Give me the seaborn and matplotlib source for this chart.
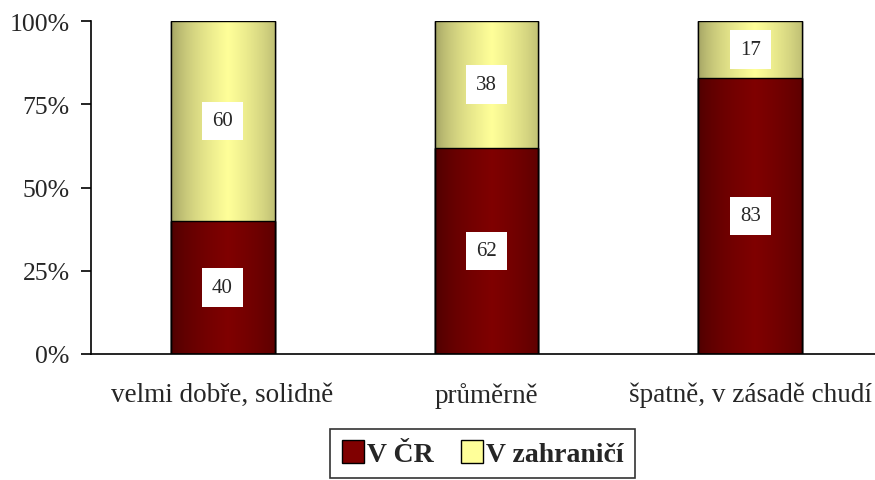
import numpy as np
import pandas as pd
import matplotlib
matplotlib.use("Agg")
import matplotlib.pyplot as plt
import matplotlib.patches as mpatches
import seaborn as sns

categories = ["velmi dobře, solidně", "průměrně", "špatně, v zásadě chudí"]
v_cr = [40, 62, 83]
v_zahranici = [60, 38, 17]
series_names = ["V ČR", "V zahraničí"]

# gradient colours (edge, centre) for the cylinder look
red_edge, red_mid = np.array([0.25, 0.0, 0.0]), np.array([0.50, 0.0, 0.0])
yel_edge, yel_mid = np.array([0.53, 0.53, 0.33]), np.array([1.0, 1.0, 0.60])


def gradient_image(edge, mid, n=200):
    """Horizontal cylinder shading: dark edges, bright near the centre"""
    t = np.linspace(0, 1, n)
    w = np.clip(1 - np.abs(t - 0.55) / 0.58, 0, 1) ** 0.5
    img = edge[None, :] + (mid - edge)[None, :] * w[:, None]
    return img[None, :, :]


def shade_bars(ax, patches, edge, mid):
    img = gradient_image(edge, mid)
    for p in patches:
        x0, y0 = p.get_x(), p.get_y()
        x1, y1 = x0 + p.get_width(), y0 + p.get_height()
        im = ax.imshow(img, extent=[x0, x1, y0, y1], aspect="auto",
                       zorder=p.get_zorder() + 0.1, interpolation="bilinear")
        im.set_clip_path(p)
        frame = mpatches.Rectangle((x0, y0), x1 - x0, y1 - y0, fill=False,
                                   edgecolor="black", linewidth=1.0,
                                   zorder=p.get_zorder() + 0.2)
        ax.add_patch(frame)


df = pd.DataFrame({"kategorie": categories, "cr": v_cr, "zahr": v_zahranici})
df["total"] = df["cr"] + df["zahr"]

sns.set_style("white")
plt.rcParams["font.family"] = ["Liberation Serif", "DejaVu Serif"]

fig = plt.figure(figsize=(8.75, 4.81), dpi=100)
ax = fig.add_axes([0.1035, 0.262, 0.905, 0.692])

bar_w = 0.394
sns.barplot(data=df, x="kategorie", y="total", color=yel_mid, width=bar_w,
            ax=ax, edgecolor="black", linewidth=1.0)
n_top = len(ax.patches)
sns.barplot(data=df, x="kategorie", y="cr", color=red_mid, width=bar_w,
            ax=ax, edgecolor="black", linewidth=1.0)
top_patches = ax.patches[:n_top]
bottom_patches = ax.patches[n_top:]
shade_bars(ax, top_patches, yel_edge, yel_mid)
shade_bars(ax, bottom_patches, red_edge, red_mid)

# value labels in white boxes
for i in range(len(categories)):
    ax.text(i, v_cr[i] / 2, str(v_cr[i]), ha="center", va="center",
            fontsize=15, zorder=10,
            bbox=dict(facecolor="white", edgecolor="none", pad=7))
    ax.text(i, v_cr[i] + v_zahranici[i] / 2, str(v_zahranici[i]),
            ha="center", va="center", fontsize=15, zorder=10,
            bbox=dict(facecolor="white", edgecolor="none", pad=7))

ax.set_xlim(-0.5, 2.5)
ax.set_ylim(0, 100)
ax.set_yticks([0, 25, 50, 75, 100])
ax.set_yticklabels(["0%", "25%", "50%", "75%", "100%"], fontsize=18.5)
ax.set_xticks(range(len(categories)))
ax.set_xticklabels(categories, fontsize=19.5)
ax.set_xticks([-0.5, 0.5, 1.5, 2.5], minor=True)
ax.tick_params(axis="x", which="major", length=0, pad=20)
ax.tick_params(axis="x", which="minor", length=7, width=1.2, direction="out",
               color="black")
ax.tick_params(axis="y", length=7, width=1.2, direction="out", color="black",
               left=True, pad=8)
ax.set_xlabel("")
ax.set_ylabel("")
for side in ["top", "right"]:
    ax.spines[side].set_visible(False)
for side in ["left", "bottom"]:
    ax.spines[side].set_color("black")
    ax.spines[side].set_linewidth(1.2)

handles = [mpatches.Patch(facecolor=red_mid, edgecolor="black", label=series_names[0]),
           mpatches.Patch(facecolor=yel_mid, edgecolor="black", label=series_names[1])]
leg = ax.legend(handles=handles, loc="upper center", bbox_to_anchor=(0.495, -0.225),
                ncol=2, frameon=True, fancybox=False, prop={"weight": "bold", "size": 20},
                handlelength=0.8, handleheight=0.9, handletextpad=0.1,
                columnspacing=1.0, borderpad=0.4, borderaxespad=0)
leg.get_frame().set_edgecolor("black")
leg.get_frame().set_linewidth(1.2)

fig.savefig("out.png", dpi=100)
